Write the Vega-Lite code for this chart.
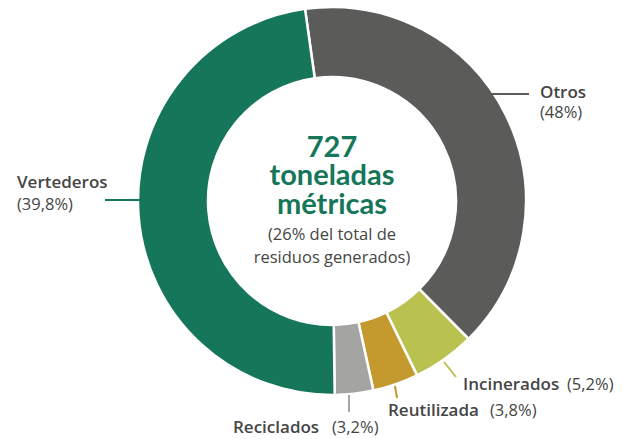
{
  "$schema": "https://vega.github.io/schema/vega-lite/v6.json",
  "width": 622,
  "height": 439,
  "autosize": "none",
  "padding": 0,
  "background": "white",
  "config": {"view": {"stroke": null}, "font": "Open Sans"},
  "datasets": {
    "slices": [
      {"category": "Otros", "share": 39.8, "order": 1},
      {"category": "Incinerados", "share": 5.2, "order": 2},
      {"category": "Reutilizada", "share": 3.8, "order": 3},
      {"category": "Reciclados", "share": 3.2, "order": 4},
      {"category": "Vertederos", "share": 48.0, "order": 5}
    ],
    "leaders": [
      {"category": "Otros", "x": 492, "y": 94, "x2": 529, "y2": 94},
      {"category": "Vertederos", "x": 105, "y": 200, "x2": 140, "y2": 200},
      {"category": "Incinerados", "x": 444, "y": 362, "x2": 456, "y2": 377},
      {"category": "Reutilizada", "x": 395, "y": 386, "x2": 397, "y2": 398},
      {"category": "Reciclados", "x": 349, "y": 395, "x2": 349, "y2": 412}
    ],
    "centerBig": [
      {"text": "727", "x": 332, "y": 157},
      {"text": "toneladas", "x": 332, "y": 185},
      {"text": "métricas", "x": 332, "y": 214}
    ],
    "centerSmall": [
      {"text": "(26% del total de", "x": 332, "y": 240},
      {"text": "residuos generados)", "x": 332, "y": 263}
    ],
    "names": [
      {"text": "Otros", "x": 540, "y": 98},
      {"text": "Vertederos", "x": 17, "y": 188},
      {"text": "Incinerados", "x": 463, "y": 390},
      {"text": "Reutilizada", "x": 388, "y": 416},
      {"text": "Reciclados", "x": 233, "y": 433}
    ],
    "shares": [
      {"text": "(48%)", "x": 540, "y": 118},
      {"text": "(39,8%)", "x": 17, "y": 210},
      {"text": "(5,2%)", "x": 567, "y": 390},
      {"text": "(3,8%)", "x": 490, "y": 416},
      {"text": "(3,2%)", "x": 332, "y": 433}
    ]
  },
  "layer": [
    {
      "data": {"name": "slices"},
      "mark": {"type": "arc", "outerRadius": 194, "innerRadius": 124, "stroke": "white", "strokeWidth": 2.5},
      "encoding": {
        "x": {"datum": 332, "type": "quantitative", "scale": {"domain": [0, 622], "nice": false, "zero": false}, "axis": null},
        "y": {"datum": 201, "type": "quantitative", "scale": {"domain": [0, 439], "nice": false, "zero": false, "reverse": true}, "axis": null},
        "theta": {"field": "share", "type": "quantitative", "stack": true, "scale": {"range": [-0.1396, 6.1436]}},
        "order": {"field": "order", "type": "quantitative"},
        "color": {
          "field": "category", "type": "nominal", "legend": null,
          "scale": {
            "domain": ["Otros", "Incinerados", "Reutilizada", "Reciclados", "Vertederos"],
            "range": ["#5b5c5a", "#b9c14f", "#c49a2f", "#a4a4a3", "#15765a"]
          }
        }
      }
    },
    {
      "data": {"name": "leaders"},
      "mark": {"type": "rule", "strokeWidth": 2},
      "encoding": {
        "x": {"field": "x", "type": "quantitative"},
        "y": {"field": "y", "type": "quantitative"},
        "x2": {"field": "x2"},
        "y2": {"field": "y2"},
        "color": {"field": "category", "type": "nominal", "legend": null}
      }
    },
    {
      "data": {"name": "centerBig"},
      "mark": {"type": "text", "font": "Lato", "fontSize": 29, "fontWeight": "bold", "color": "#15765a", "align": "center", "baseline": "alphabetic"},
      "encoding": {
        "x": {"field": "x", "type": "quantitative"},
        "y": {"field": "y", "type": "quantitative"},
        "text": {"field": "text"}
      }
    },
    {
      "data": {"name": "centerSmall"},
      "mark": {"type": "text", "fontSize": 16.5, "color": "#454545", "align": "center", "baseline": "alphabetic"},
      "encoding": {
        "x": {"field": "x", "type": "quantitative"},
        "y": {"field": "y", "type": "quantitative"},
        "text": {"field": "text"}
      }
    },
    {
      "data": {"name": "names"},
      "mark": {"type": "text", "fontSize": 17, "fontWeight": 600, "color": "#454545", "align": "left", "baseline": "alphabetic"},
      "encoding": {
        "x": {"field": "x", "type": "quantitative"},
        "y": {"field": "y", "type": "quantitative"},
        "text": {"field": "text"}
      }
    },
    {
      "data": {"name": "shares"},
      "mark": {"type": "text", "fontSize": 16.5, "color": "#454545", "align": "left", "baseline": "alphabetic"},
      "encoding": {
        "x": {"field": "x", "type": "quantitative"},
        "y": {"field": "y", "type": "quantitative"},
        "text": {"field": "text"}
      }
    }
  ]
}
